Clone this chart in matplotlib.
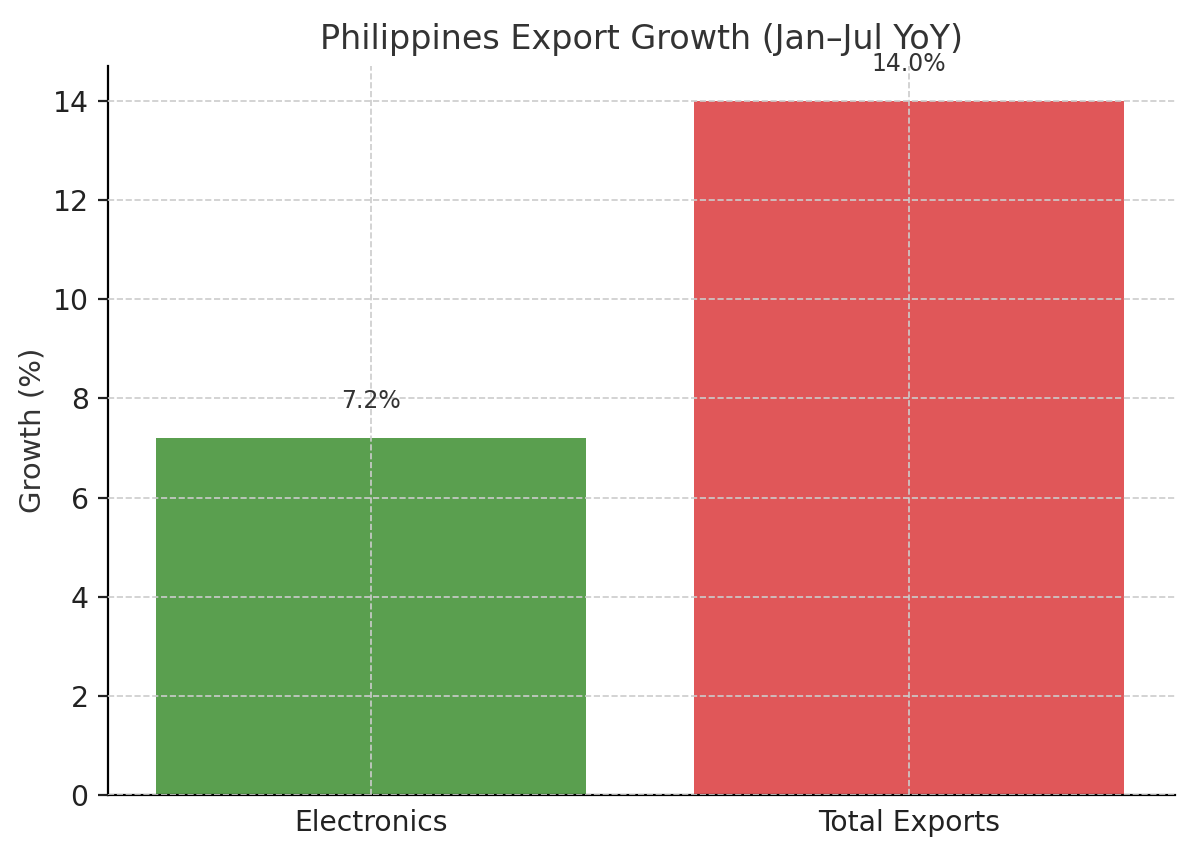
import matplotlib
matplotlib.use("Agg")
import matplotlib.pyplot as plt

categories = ["Electronics", "Total Exports"]
growth = [7.2, 14.0]
colors = ["#5a9f4f", "#e05759"]

fig = plt.figure(figsize=(6, 4.285), dpi=200)
ax = fig.add_axes([0.09, 0.072, 0.889, 0.851])

bars = ax.bar(categories, growth, color=colors, width=0.8, zorder=1)
for b, v in zip(bars, growth):
    ax.text(b.get_x() + b.get_width() / 2, v + 0.5, f"{v:.1f}%",
            ha="center", va="bottom", fontsize=8.5, color="#333333")

ax.set_xlim(-0.49, 1.495)
ax.set_ylim(0, 14.7)
ax.set_yticks(range(0, 15, 2))
ax.grid(True, linestyle="--", color="#cccccc", linewidth=0.6, zorder=2)
ax.set_axisbelow(False)
for s in ["top", "right"]:
    ax.spines[s].set_visible(False)
ax.tick_params(labelsize=10.2, colors="#222222")
ax.tick_params(axis="x", length=0, pad=5)
ax.set_ylabel("Growth (%)", fontsize=10.5, color="#333333", labelpad=2)
ax.set_title("Philippines Export Growth (Jan\u2013Jul YoY)", fontsize=12, color="#333333")

fig.savefig("out.png", dpi=200)
